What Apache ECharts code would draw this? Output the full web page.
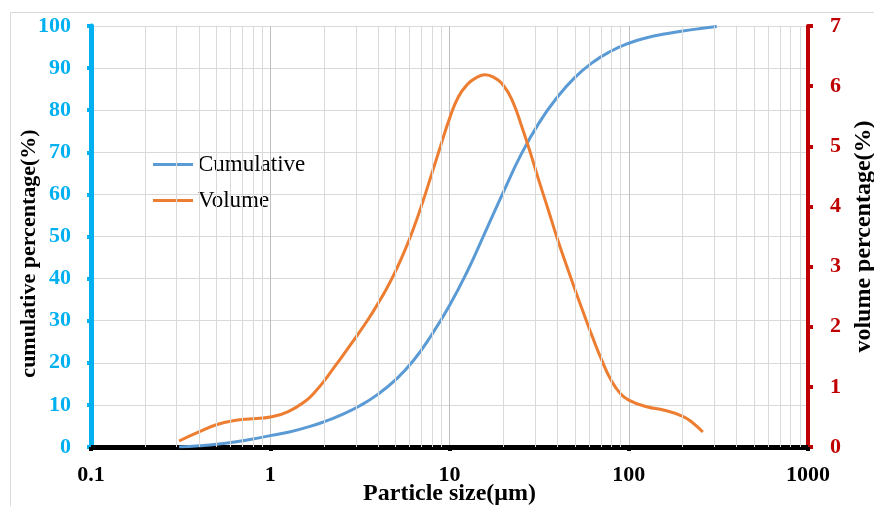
<!DOCTYPE html>
<html>
<head>
<meta charset="utf-8">
<script src="https://cdn.jsdelivr.net/npm/echarts@6/dist/echarts.min.js"></script>
<style>
  html, body { margin: 0; padding: 0; background: #fff; }
  #chart { width: 874px; height: 506px; }
</style>
</head>
<body>
<div id="chart"></div>
<script>
// Particle size distribution: cumulative curve (left axis) and volume curve (right axis)
const cumSize = [0.31, 0.4, 0.5, 0.63, 0.8, 1.0, 1.26, 1.58, 2.0, 2.51, 3.16, 3.98, 5.01, 6.31, 7.94, 10, 12.6, 15.8, 20, 25.1, 31.6, 39.8, 50.1, 63.1, 79.4, 100, 126, 158, 200, 251, 310];
const cumPct  = [0, 0.3, 0.65, 1.2, 1.9, 2.7, 3.5, 4.6, 6.0, 7.7, 9.8, 12.5, 16.0, 20.6, 26.6, 33.6, 41.8, 51.0, 60.6, 69.5, 77.0, 83.0, 87.8, 91.4, 94.0, 95.9, 97.2, 98.1, 98.8, 99.4, 99.9];

const volSize = [0.31, 0.4, 0.5, 0.63, 0.8, 1.0, 1.26, 1.58, 1.78, 2.0, 2.24, 2.51, 2.82, 3.16, 3.55, 3.98, 4.47, 5.01, 5.62, 6.31, 7.08, 7.94, 8.91, 10, 11.2, 12.6, 14.1, 15.8, 17.8, 20, 22.4, 25.1, 28.2, 31.6, 35.5, 39.8, 44.7, 50.1, 56.2, 63.1, 70.8, 79.4, 89.1, 100, 126, 158, 200, 228, 259];
const volPct  = [0.1, 0.25, 0.37, 0.44, 0.47, 0.5, 0.59, 0.77, 0.92, 1.1, 1.3, 1.5, 1.71, 1.92, 2.14, 2.38, 2.64, 2.93, 3.26, 3.64, 4.07, 4.53, 5.0, 5.46, 5.82, 6.03, 6.14, 6.19, 6.14, 6.01, 5.76, 5.36, 4.9, 4.42, 3.95, 3.48, 3.04, 2.62, 2.21, 1.81, 1.44, 1.12, 0.9, 0.78, 0.67, 0.61, 0.51, 0.4, 0.25];

const xTickLabels = ['0.1', '1', '10', '100', '1000'];
const leftTicks = [0, 100, 10];   // min, max, interval
const rightTicks = [0, 7, 1];

// minor log gridlines (2..9 within each decade)
const minorGrid = [];
[0.1, 1, 10, 100].forEach(d => { for (let k = 2; k <= 9; k++) minorGrid.push(+(d * k).toPrecision(3)); });

const serif = '"Liberation Serif", "Times New Roman", serif';
const chart = echarts.init(document.getElementById('chart'));

chart.setOption({
  animation: false,
  backgroundColor: '#fff',
  graphic: [{
    type: 'rect', silent: true, z: -10,
    shape: { x: 10.5, y: 12.5, width: 900, height: 600 },
    style: { fill: 'none', stroke: '#d9d9d9', lineWidth: 1 }
  }],
  grid: { left: 91, right: 66, top: 26, bottom: 59, containLabel: false, outerBoundsMode: 'none' },
  legend: {
    orient: 'vertical', left: 148, top: 148,
    icon: 'rect', itemWidth: 40, itemHeight: 3, itemGap: 13,
    textStyle: { fontFamily: serif, fontSize: 23, color: '#000' },
    data: ['Cumulative', 'Volume']
  },
  xAxis: {
    type: 'log', logBase: 10, min: 0.1, max: 1000,
    name: 'Particle size(μm)', nameLocation: 'middle', nameGap: 35, nameMoveOverlap: false,
    nameTextStyle: { fontFamily: serif, fontSize: 24, fontWeight: 'bold', color: '#000' },
    axisLine: { show: true, lineStyle: { color: '#000', width: 5 } },
    axisTick: { show: true, length: 4, lineStyle: { color: '#000', width: 4 } },
    axisLabel: {
      fontFamily: serif, fontSize: 22, fontWeight: 'bold', color: '#000', margin: 17,
      formatter: v => { const s = xTickLabels.find(t => Math.abs(parseFloat(t) - v) < 1e-6 * v); return s || ''; }
    },
    splitLine: { show: true, lineStyle: { color: '#bfbfbf', width: 1 } }
  },
  yAxis: [{
    type: 'value', min: leftTicks[0], max: leftTicks[1], interval: leftTicks[2],
    name: 'cumulative percentage(%)', nameLocation: 'middle', nameGap: 51, nameRotate: 90, nameMoveOverlap: false,
    nameTextStyle: { fontFamily: serif, fontSize: 22, fontWeight: 'bold', color: '#000', padding: [0, 34, 0, 0] },
    axisLine: { show: true, lineStyle: { color: '#00b0f0', width: 5 } },
    axisTick: { show: true, length: 4, lineStyle: { color: '#00b0f0', width: 4 } },
    axisLabel: { fontFamily: serif, fontSize: 22, fontWeight: 'bold', color: '#00b0f0', margin: 20 },
    splitLine: { show: true, lineStyle: { color: '#d9d9d9', width: 1 } }
  }, {
    type: 'value', position: 'right', min: rightTicks[0], max: rightTicks[1], interval: rightTicks[2],
    name: 'volume percentage(%)', nameLocation: 'middle', nameGap: 44, nameRotate: 90, nameMoveOverlap: false,
    nameTextStyle: { fontFamily: serif, fontSize: 24, fontWeight: 'bold', color: '#000' },
    axisLine: { show: true, lineStyle: { color: '#c00000', width: 4 } },
    axisTick: { show: true, length: 5, lineStyle: { color: '#c00000', width: 4 } },
    axisLabel: { fontFamily: serif, fontSize: 22, fontWeight: 'bold', color: '#c00000', margin: 22 },
    splitLine: { show: false }
  }],
  series: [{
    name: 'minor-grid', type: 'line', data: [], z: 0, silent: true,
    markLine: {
      silent: true, symbol: 'none', label: { show: false },
      lineStyle: { color: '#d9d9d9', width: 1, type: 'solid' },
      emphasis: { disabled: true },
      data: minorGrid.map(v => ({ xAxis: v }))
    }
  }, {
    name: 'Cumulative', type: 'line', yAxisIndex: 0, smooth: true, showSymbol: false, z: 3,
    itemStyle: { color: '#5b9bd5' },
    lineStyle: { color: '#5b9bd5', width: 3 },
    data: cumSize.map((x, i) => [x, cumPct[i]])
  }, {
    name: 'Volume', type: 'line', yAxisIndex: 1, smooth: true, showSymbol: false, z: 3,
    itemStyle: { color: '#ed7d31' },
    lineStyle: { color: '#ed7d31', width: 3 },
    data: volSize.map((x, i) => [x, volPct[i]])
  }]
});
</script>
</body>
</html>
